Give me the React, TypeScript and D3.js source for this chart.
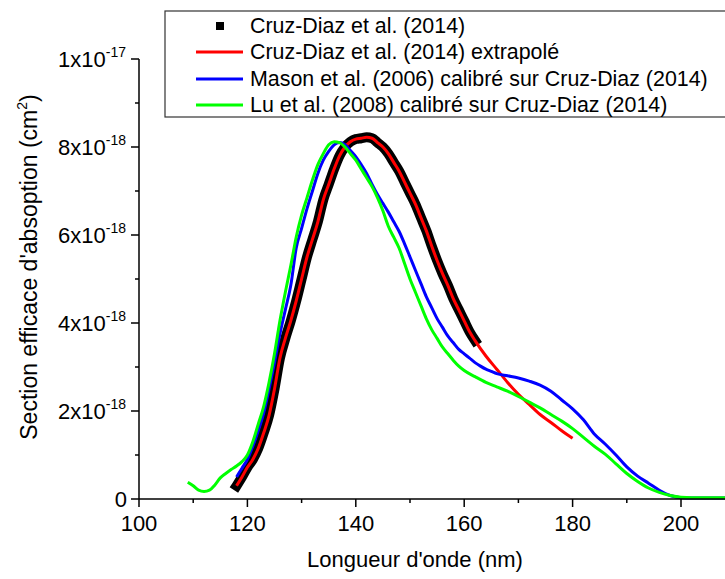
import React from 'react';
import * as d3 from 'd3';

// values in units of 1e-18 cm^2
const cruzWl = [118,119,120,121,122,123,124,125,126,127,128,129,130,131,132,133,134,135,136,137,138,139,140,141,142,143,144,145,146,147,148,149,150,151,152,153,154,155,156,157,158,159,160,161,162];
const cruzVal = [0.3,0.5,0.72,0.9,1.15,1.5,1.9,2.5,3.2,3.65,4.05,4.5,5.0,5.5,5.9,6.3,6.8,7.15,7.5,7.8,8.0,8.12,8.18,8.2,8.22,8.2,8.1,8.0,7.85,7.65,7.45,7.2,6.95,6.7,6.4,6.1,5.75,5.42,5.12,4.85,4.55,4.3,4.05,3.8,3.6];
const extraWl = [164,166,168,170,172,174,176,178,180];
const extraVal = [3.25,2.95,2.65,2.38,2.15,1.92,1.74,1.55,1.38];
const masonWl = [118,119,120,121,122,123,124,125,126,127,128,129,130,131,132,133,134,135,136,137,138,139,140,141,142,143,144,145,146,147,148,149,150,151,152,153,154,155,156,157,158,159,160,161,162,163,164,165,166,168,170,172,174,176,178,180,182,184,186,188,190,192,194,196,198,200,202,204,206,208,210];
const masonVal = [0.5,0.7,0.9,1.2,1.55,1.95,2.5,3.1,3.75,4.3,4.85,5.7,6.15,6.6,7.0,7.4,7.7,7.9,8.05,8.1,8.05,7.92,7.78,7.6,7.4,7.15,6.92,6.72,6.52,6.3,6.08,5.8,5.5,5.2,4.9,4.6,4.35,4.1,3.9,3.7,3.55,3.4,3.3,3.2,3.1,3.02,2.95,2.9,2.85,2.8,2.75,2.68,2.59,2.45,2.25,2.05,1.8,1.48,1.25,1.0,0.73,0.52,0.36,0.2,0.08,0.03,0.02,0.02,0.02,0.02,0.02];
const luWl = [109,110,111,112,113,114,115,116,117,118,119,120,121,122,123,124,125,126,127,128,129,130,131,132,133,134,135,136,137,138,139,140,141,142,143,144,145,146,147,148,149,150,151,152,153,154,155,156,157,158,159,160,162,164,166,168,170,172,174,176,178,180,182,184,186,188,190,192,194,196,198,200,202,204,206,208,210];
const luVal = [0.38,0.3,0.2,0.17,0.2,0.32,0.48,0.58,0.67,0.75,0.85,1.0,1.3,1.7,2.1,2.65,3.3,4.05,4.7,5.3,5.95,6.45,6.85,7.25,7.6,7.85,8.05,8.12,8.1,8.0,7.85,7.7,7.5,7.3,7.1,6.85,6.55,6.2,5.95,5.7,5.35,5.0,4.7,4.4,4.1,3.85,3.65,3.45,3.3,3.15,3.02,2.92,2.78,2.65,2.55,2.45,2.33,2.2,2.07,1.92,1.77,1.6,1.4,1.2,1.02,0.8,0.58,0.4,0.25,0.15,0.08,0.04,0.03,0.03,0.03,0.03,0.03];

const xTicks = [100,120,140,160,180,200];
const xMinorTicks = [110,130,150,170,190,210];
const yTicks = [0,2e-18,4e-18,6e-18,8e-18,1e-17];
const yMinorTicks = [1e-18,3e-18,5e-18,7e-18,9e-18];

const legendLabels = [
  'Cruz-Diaz et al. (2014)',
  'Cruz-Diaz et al. (2014) extrapolé',
  'Mason et al. (2006) calibré sur Cruz-Diaz (2014)',
  'Lu et al. (2008) calibré sur Cruz-Diaz (2014)',
];
const colors = ['#000000', '#ff0000', '#0000ff', '#00ff00'];

const W = 725, H = 579;
const FONT = '"Liberation Sans", Arial, sans-serif';

export default function App() {
  const x = d3.scaleLinear().domain([100, 210]).range([139, 735.2]);
  const y = d3.scaleLinear().domain([0, 1e-17]).range([499, 59]);
  const toPts = (wl: number[], v: number[]) => wl.map((w, i) => [w, v[i] * 1e-18] as [number, number]);
  const line = d3.line<[number, number]>().x(d => x(d[0])).y(d => y(d[1])).curve(d3.curveMonotoneX);

  const cruz = toPts(cruzWl, cruzVal);
  const red = cruz.concat(toPts(extraWl, extraVal));
  const mason = toPts(masonWl, masonVal);
  const lu = toPts(luWl, luVal);

  const fmtY = (v: number) => {
    if (v === 0) return { m: '0', e: '' };
    const e = Math.floor(Math.log10(v) + 1e-9);
    const m = Math.round(v / Math.pow(10, e));
    return { m: `${m}x10`, e: `${e}` };
  };

  const legendRowY = [26, 52, 79, 105];

  return (
    <svg width={W} height={H} style={{ position: 'absolute', left: 0, top: 0, background: '#fff' }} fontFamily={FONT}>
      <rect x={0} y={0} width={W} height={H} fill="#fff" />
      {/* curves */}
      <path d={line(cruz) || ''} fill="none" stroke="#000" strokeWidth={10} strokeLinejoin="miter" strokeLinecap="square" />
      <path d={line(red) || ''} fill="none" stroke={colors[1]} strokeWidth={3} />
      <path d={line(mason) || ''} fill="none" stroke={colors[2]} strokeWidth={3} />
      <path d={line(lu) || ''} fill="none" stroke={colors[3]} strokeWidth={3} />

      {/* axes */}
      <line x1={139} x2={W} y1={y(0)} y2={y(0)} stroke="#000" strokeWidth={1.5} />
      <line x1={139} x2={139} y1={y(0)} y2={y(1e-17)} stroke="#000" strokeWidth={1.5} />
      {xTicks.map(t => (
        <g key={'xt' + t}>
          <line x1={x(t)} x2={x(t)} y1={y(0)} y2={y(0) + 8} stroke="#000" strokeWidth={1.5} />
          <text x={x(t)} y={y(0) + 32} textAnchor="middle" fontSize={22}>{t}</text>
        </g>
      ))}
      {xMinorTicks.map(t => (
        <line key={'xm' + t} x1={x(t)} x2={x(t)} y1={y(0)} y2={y(0) + 4} stroke="#000" strokeWidth={1.5} />
      ))}
      {yTicks.map(t => {
        const f = fmtY(t);
        return (
          <g key={'yt' + t}>
            <line x1={131} x2={139} y1={y(t)} y2={y(t)} stroke="#000" strokeWidth={1.5} />
            <text x={f.e ? 126 : 127} y={y(t) + 8} textAnchor="end" fontSize={22}>
              {f.m}
              {f.e && <tspan fontSize={14} dy={-10}>{f.e}</tspan>}
            </text>
          </g>
        );
      })}
      {yMinorTicks.map(t => (
        <line key={'ym' + t} x1={135} x2={139} y1={y(t)} y2={y(t)} stroke="#000" strokeWidth={1.5} />
      ))}

      {/* axis titles */}
      <text x={415} y={567} textAnchor="middle" fontSize={22}>Longueur d'onde (nm)</text>
      <text transform={`translate(37, 267) rotate(-90)`} textAnchor="middle" fontSize={23}>
        Section efficace d'absoption (cm<tspan fontSize={14} dy={-10}>2</tspan><tspan dy={10}>)</tspan>
      </text>

      {/* legend */}
      <rect x={165} y={11} width={600} height={106} fill="#fff" stroke="#333" strokeWidth={1.2} />
      {legendLabels.map((lab, i) => (
        <g key={lab}>
          {i === 0 ? (
            <rect x={216} y={legendRowY[i] - 4} width={8} height={8} fill="#000" />
          ) : (
            <line x1={196} x2={243} y1={legendRowY[i]} y2={legendRowY[i]} stroke={colors[i]} strokeWidth={3} />
          )}
          <text x={250} y={legendRowY[i] + 7} fontSize={21.4}>{lab}</text>
        </g>
      ))}
    </svg>
  );
}
